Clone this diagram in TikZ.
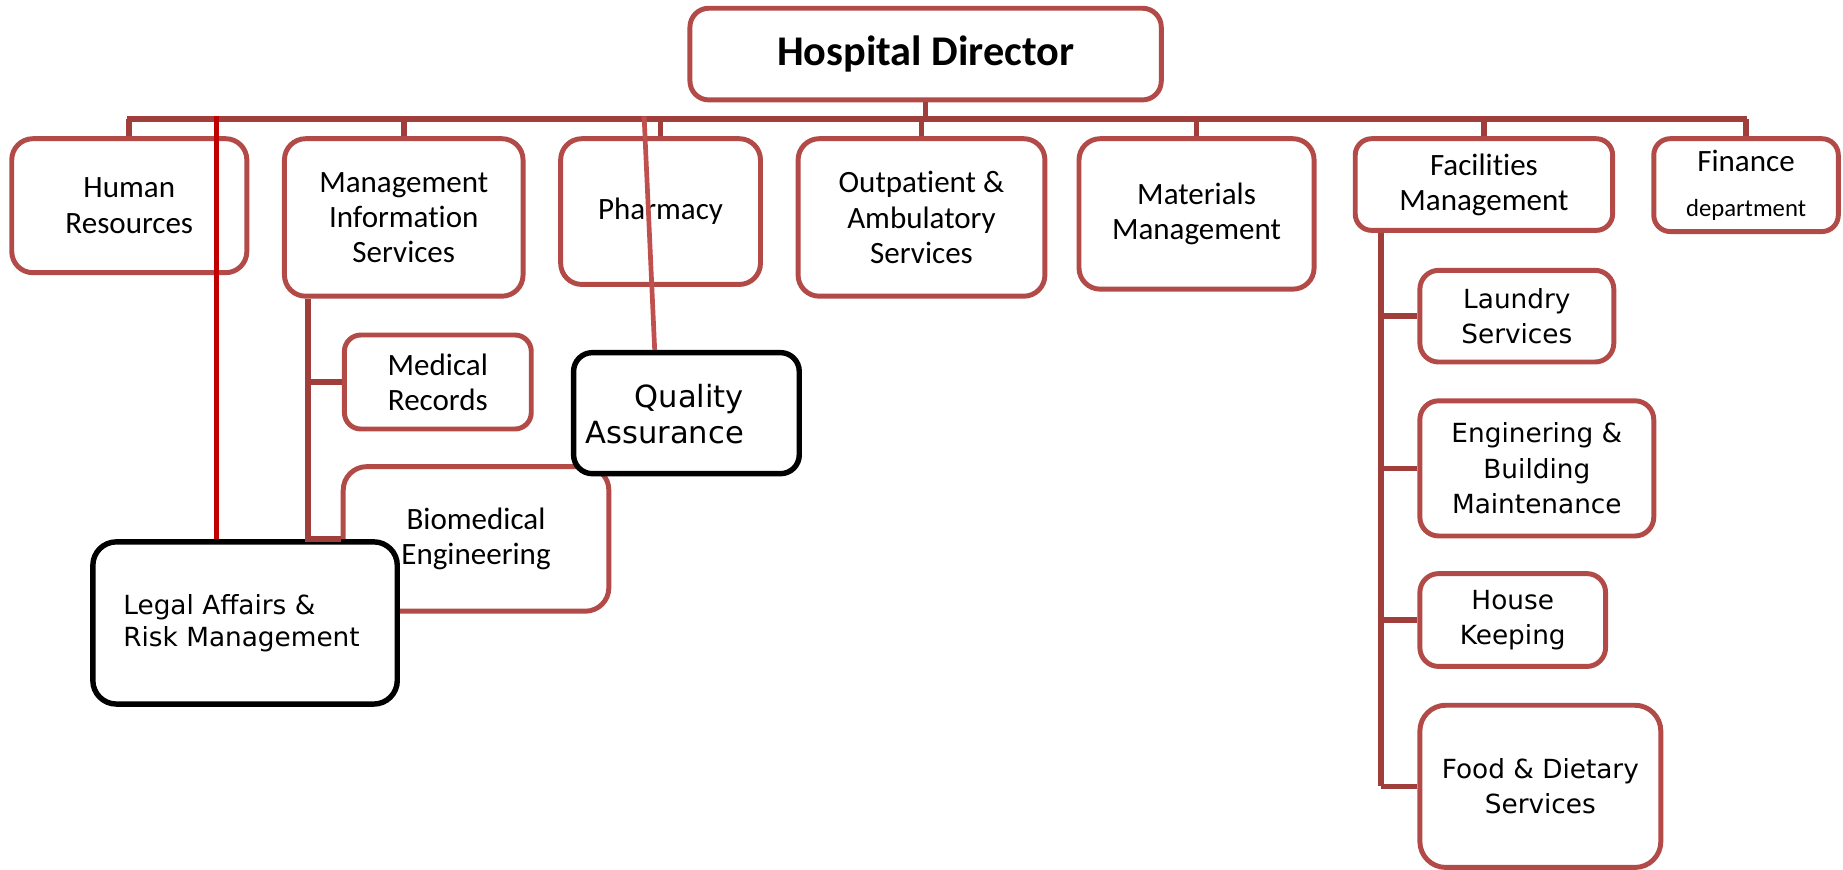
\documentclass[tikz,border=0pt]{standalone}
\usepackage{fontspec}
\setmainfont{Carlito}[Ligatures=NoCommon]
\newfontfamily\dvs{DejaVu Sans}
\usetikzlibrary{calc}
\definecolor{boxred}{RGB}{178,74,72}
\definecolor{linered}{RGB}{160,62,60}
\definecolor{brightred}{RGB}{192,0,0}
\definecolor{qaline}{RGB}{192,80,77}
\newcommand\orgbox[7]{\node[#1, minimum width={(#4-#2)*0.5pt}, minimum height={(#5-#3)*0.5pt}] (#6) at ({(#2+#4)/2},{(#3+#5)/2}) {#7};}
\tikzset{
  rbox/.style={draw=boxred, line width=2.1pt, fill=white, rounded corners=9pt, inner sep=0pt, align=center, font=\fontsize{13.2}{15}\selectfont},
  sbox/.style={rbox, rounded corners=7pt},
  vbox/.style={rbox, rounded corners=8pt, font=\dvs\fontsize{11.2}{15}\selectfont},
  kbox/.style={draw=black, line width=2.3pt, fill=white, rounded corners=10pt, inner sep=0pt, align=left},
  conn/.style={draw=linered, line width=2.4pt},
}
\begin{document}
\begin{tikzpicture}[x=0.5pt,y=-0.5pt]
\useasboundingbox (0,0) rectangle (1568,740);
% top level
\orgbox{rbox, rounded corners=8pt, font=\fontsize{18}{21}\selectfont\bfseries}{587}{7}{988}{85}{dir}{Hospital Director}
\orgbox{rbox}{10}{118}{210}{232}{hr}{Human\\Resources}
\orgbox{rbox}{242}{118}{445}{252}{mis}{Management\\Information\\Services}
\orgbox{rbox}{477}{118}{647}{242}{pha}{Pharmacy}
\orgbox{rbox}{679}{118}{889}{252}{out}{Outpatient \&\\Ambulatory\\Services}
\orgbox{rbox}{918}{118}{1118}{246}{mat}{Materials\\Management}
\orgbox{sbox}{1153}{118}{1372}{196}{fac}{Facilities\\Management}
\orgbox{sbox}{1407}{118}{1564}{197}{fin}{\raisebox{-1pt}{Finance}\\[5pt]{\fontsize{10.5}{12}\selectfont department}}
% facilities children
\orgbox{vbox}{1208}{230}{1373}{308}{lau}{Laundry\\Services}
\orgbox{vbox}{1208}{341}{1407}{456}{eng}{Enginering \&\\Building\\Maintenance}
\orgbox{vbox}{1208}{488}{1366}{567}{hou}{House\\Keeping}
\orgbox{vbox, rounded corners=11pt}{1208}{600}{1413}{738}{food}{Food \& Dietary\\Services}
% MIS children
\orgbox{sbox}{293}{285}{452}{365}{med}{Medical\\Records}
\orgbox{rbox, rounded corners=10pt}{292}{397}{518}{520}{bio}{Biomedical\\Engineering}
% black boxes
\orgbox{kbox, font=\dvs\fontsize{11.2}{13.5}\selectfont}{79}{461}{338}{599}{legal}{Legal Affairs \&\\Risk Management\hspace*{3pt}}
\orgbox{kbox, rounded corners=8pt}{488}{300}{680}{403}{qa}{}
\node[anchor=west, align=left, inner sep=0pt, font=\dvs\fontsize{13}{15.5}\selectfont] (qatext) at ($(qa.west)+(12,1)$) {\hspace*{21pt}Quality\\Assurance};
% connectors
\coordinate (busL) at (108,101);
\coordinate (busR) at (1486,101);
\draw[conn] (busL) -- (busR);
\draw[conn] (dir.south) -- (dir.south |- busL);
\foreach \n in {hr,mis,pha,out,mat,fac,fin} \draw[conn] (\n.north) -- (\n.north |- busL);
\coordinate (fv) at (1175,196);
\draw[conn] (fac.south -| fv) -- (fv |- food.west);
\foreach \n in {lau,eng,hou,food} \draw[conn] (fv |- \n.west) -- (\n.west);
\coordinate (mv) at (262,252);
\draw[conn] (mis.south -| mv) -- (mv |- bio.west) -- (bio.west);
\draw[conn] (mv |- med.west) -- (med.west);
\coordinate (rtop) at (184,99);
\draw[draw=brightred, line width=2pt] (rtop) -- (rtop |- legal.north);
\coordinate (qtop) at (548,99);
\draw[draw=qaline, line width=2pt] (qtop) -- ($(qa.north)+(-27,0)$);
\end{tikzpicture}
\end{document}
